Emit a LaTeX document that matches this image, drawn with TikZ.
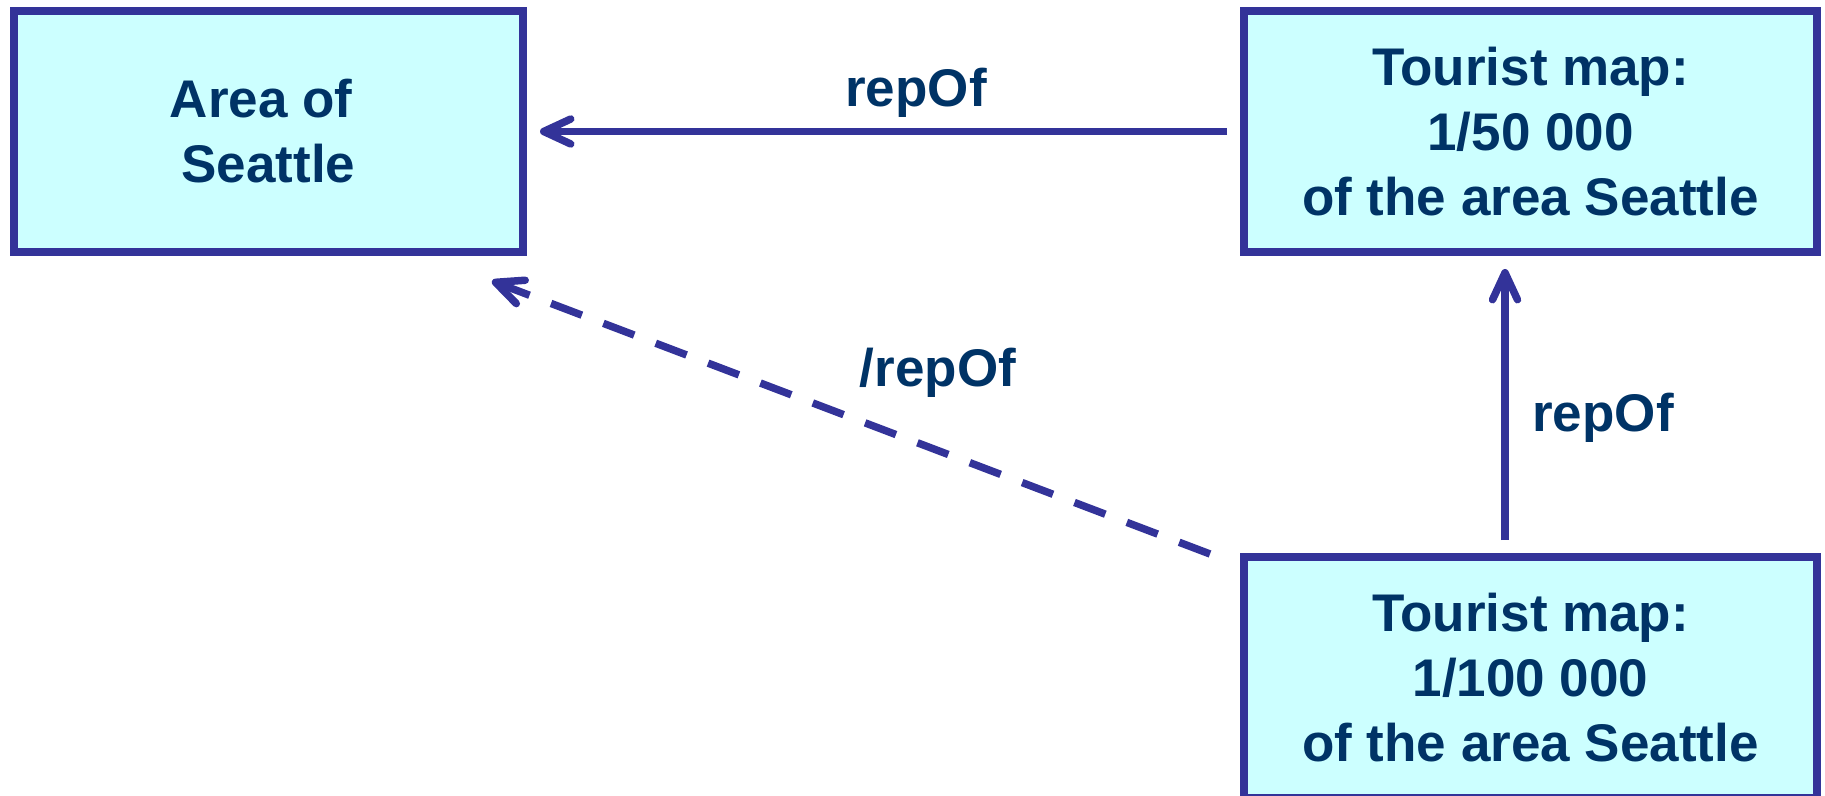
\documentclass[tikz,border=0pt]{standalone}
\usepackage{fontspec}
\setmainfont{Liberation Sans}
\usetikzlibrary{arrows.meta,calc}
\definecolor{boxfill}{HTML}{CCFFFF}
\definecolor{edge}{HTML}{333399}
\definecolor{ink}{HTML}{003366}

\begin{document}
\begin{tikzpicture}[x=0.5pt,y=-0.5pt,
  txt/.style={text=ink, font=\fontsize{26.5}{32.5}\selectfont\bfseries},
  concept/.style={txt, draw=edge, fill=boxfill, line width=4pt, align=center,
    minimum height=120.5pt, inner sep=0pt},
  rel/.style={draw=edge, line width=3.75pt,
    -{Straight Barb[length=13.5pt, width=12.5pt, round]},
    shorten <=6.5pt, shorten >=6.5pt},
  lbl/.style={txt, inner sep=0pt}]

  \useasboundingbox (0,0) rectangle (1825,796);
  \clip (0,0) rectangle (1825,796);

  % concepts
  \node[concept, minimum width=254.5pt] (area) at (268.5,131.5)
    {Area of\hspace*{0.28em}\\Seattle};
  \node[concept, minimum width=286.5pt] (map50) at (1530.5,131.5)
    {Tourist map:\\1/50 000\\of the area Seattle};
  \node[concept, minimum width=286.5pt] (map100) at (1530.5,677.5)
    {Tourist map:\\1/100 000\\of the area Seattle};

  % relations
  \draw[rel] (map50.west) -- (area.east);
  \draw[rel] ([xshift=-12.75pt]map100.north) -- ([xshift=-12.75pt]map50.south);
  \draw[rel, shorten <=0pt, shorten >=0pt, dash pattern=on 16.5pt off 11.5pt]
    ($(map100.north west)+(-30,1)$) -- ($(area.south east)+(-35,25)$);

  % relation labels
  \node[lbl] (l1) at (916,93) {repOf};
  \node[lbl] (l2) at (1603,418) {repOf};
  \node[lbl] (l3) at (938,373) {/repOf};
\end{tikzpicture}
\end{document}
